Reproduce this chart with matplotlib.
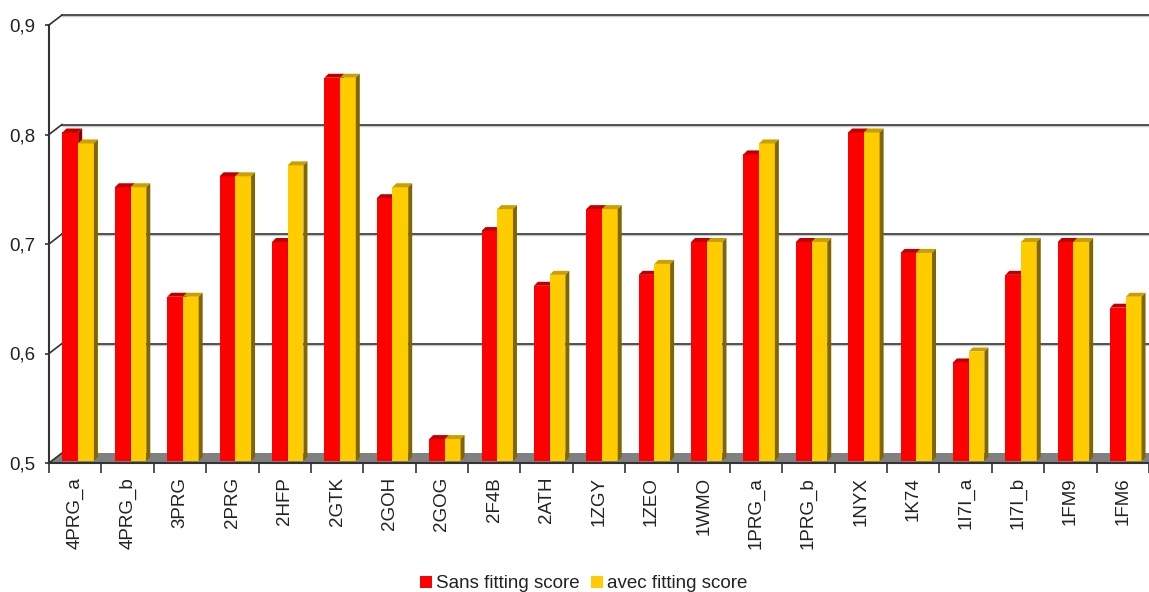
import matplotlib
matplotlib.use("Agg")
import matplotlib.pyplot as plt
from matplotlib.patches import Polygon, Patch
from matplotlib.lines import Line2D
from matplotlib.transforms import IdentityTransform, offset_copy
from matplotlib.ticker import FixedLocator, FuncFormatter, NullFormatter

plt.rcParams["font.family"] = ["Liberation Sans", "DejaVu Sans"]

categories = ["4PRG_a", "4PRG_b", "3PRG", "2PRG", "2HFP", "2GTK", "2GOH", "2GOG",
              "2F4B", "2ATH", "1ZGY", "1ZEO", "1WMO", "1PRG_a", "1PRG_b", "1NYX",
              "1K74", "1I7I_a", "1I7I_b", "1FM9", "1FM6"]
sans_fitting = [0.80, 0.75, 0.65, 0.76, 0.70, 0.85, 0.74, 0.52, 0.71, 0.66, 0.73,
                0.67, 0.70, 0.78, 0.70, 0.80, 0.69, 0.59, 0.67, 0.70, 0.64]
avec_fitting = [0.79, 0.75, 0.65, 0.76, 0.77, 0.85, 0.75, 0.52, 0.73, 0.67, 0.73,
                0.68, 0.70, 0.79, 0.70, 0.80, 0.69, 0.60, 0.70, 0.70, 0.65]
y_ticks = [0.5, 0.6, 0.7, 0.8, 0.9]
series_names = ["Sans fitting score", "avec fitting score"]

# face colours: front, top, side
RED = ("#ff0000", "#c00000", "#8a0000")
GOLD = ("#ffcc00", "#c9a000", "#806600")
AXIS_COL = "#333333"
TEXT_COL = "#222222"
FONT_SIZE = 13.5

W, H = 1149, 592
fig = plt.figure(figsize=(W / 100, H / 100), dpi=100)
ax = fig.add_axes([49 / W, (H - 463) / H, 1100 / W, 438 / H])
ax.set_xlim(0, len(categories))
ax.set_ylim(y_ticks[0], y_ticks[-1])
ax.patch.set_visible(False)

WALL_DX, WALL_DY = 13, 10     # depth of the back wall, in pixels
BAR_DX, BAR_DY = 3, 2         # bars sit slightly behind the front edge
BAR_DEPTH = 4                 # thickness of each bar
BAR_W = 0.3
ident = IdentityTransform()


def px(x, y):
    return ax.transData.transform((x, y))


n = len(categories)

# floor
fl0 = px(0, y_ticks[0])
fl1 = px(n, y_ticks[0])
ax.add_patch(Polygon([fl0, fl1, (fl1[0] + WALL_DX, fl1[1] + WALL_DY),
                      (fl0[0] + WALL_DX, fl0[1] + WALL_DY)],
                     closed=True, facecolor="#808080", edgecolor="none",
                     transform=ident, clip_on=False, zorder=1))

# back wall grid lines and the short connectors to the value axis
for v in y_ticks:
    a = px(0, v)
    b = px(n, v)
    ax.add_line(Line2D([a[0], a[0] + WALL_DX], [a[1], a[1] + WALL_DY],
                       color=AXIS_COL, lw=1.2, transform=ident, clip_on=False, zorder=2))
    if v > y_ticks[0]:
        ax.add_line(Line2D([a[0] + WALL_DX, b[0] + WALL_DX],
                           [a[1] + WALL_DY - 1.2, b[1] + WALL_DY - 1.2],
                           color="#c8c8c8", lw=1.0, transform=ident, clip_on=False, zorder=1))
        ax.add_line(Line2D([a[0] + WALL_DX, b[0] + WALL_DX],
                           [a[1] + WALL_DY, b[1] + WALL_DY],
                           color=AXIS_COL, lw=1.2, transform=ident, clip_on=False, zorder=2))

bar_trans = offset_copy(ax.transData, fig=fig, x=BAR_DX, y=BAR_DY, units="dots")


def draw_bar(xc, value, colors, z):
    front, top, side = colors
    ax.bar(xc, value - y_ticks[0], bottom=y_ticks[0], width=BAR_W, color=front,
           edgecolor="none", transform=bar_trans, clip_on=False, zorder=z)
    x0, y1 = bar_trans.transform((xc - BAR_W / 2, value))
    x1, y0 = bar_trans.transform((xc + BAR_W / 2, y_ticks[0]))
    d = BAR_DEPTH
    ax.add_patch(Polygon([(x0, y1), (x1, y1), (x1 + d, y1 + d), (x0 + d, y1 + d)],
                         closed=True, facecolor=top, edgecolor="none",
                         transform=ident, clip_on=False, zorder=z))
    ax.add_patch(Polygon([(x1, y0), (x1, y1), (x1 + d, y1 + d), (x1 + d, y0 + d)],
                         closed=True, facecolor=side, edgecolor="none",
                         transform=ident, clip_on=False, zorder=z))


for i, (a, b) in enumerate(zip(sans_fitting, avec_fitting)):
    draw_bar(i + 0.5 - BAR_W / 2, a, RED, 3)
    draw_bar(i + 0.5 + BAR_W / 2, b, GOLD, 4)

# axes
for side in ("top", "right"):
    ax.spines[side].set_visible(False)
for side in ("left", "bottom"):
    ax.spines[side].set_color(AXIS_COL)
    ax.spines[side].set_linewidth(1.5)
    ax.spines[side].set_zorder(5)

ax.yaxis.set_major_locator(FixedLocator(y_ticks))
ax.yaxis.set_major_formatter(FuncFormatter(lambda v, p: f"{v:.1f}".replace(".", ",")))
ax.tick_params(axis="y", length=3, width=1.2, color=AXIS_COL, pad=7,
               labelsize=FONT_SIZE, labelcolor=TEXT_COL)

ax.xaxis.set_major_locator(FixedLocator(list(range(n + 1))))
ax.xaxis.set_major_formatter(NullFormatter())
ax.xaxis.set_minor_locator(FixedLocator([i + 0.5 for i in range(n)]))
ax.set_xticklabels(categories, minor=True, rotation=90, va="top", ha="center")
ax.tick_params(axis="x", which="major", length=7, width=1.2, color=AXIS_COL)
ax.tick_params(axis="x", which="minor", length=0, pad=10, labelsize=FONT_SIZE,
               labelcolor=TEXT_COL)

handles = [Patch(facecolor=RED[0], edgecolor="none"),
           Patch(facecolor=GOLD[0], edgecolor="none")]
fig.legend(handles, series_names, loc="center", bbox_to_anchor=(584 / W, 8 / H),
           ncol=2, frameon=False, fontsize=FONT_SIZE, handlelength=0.6, handleheight=0.6,
           handletextpad=0.25, columnspacing=0.6, labelcolor=TEXT_COL,
           borderpad=0, borderaxespad=0)

fig.savefig("out.png", dpi=100, facecolor="white")
